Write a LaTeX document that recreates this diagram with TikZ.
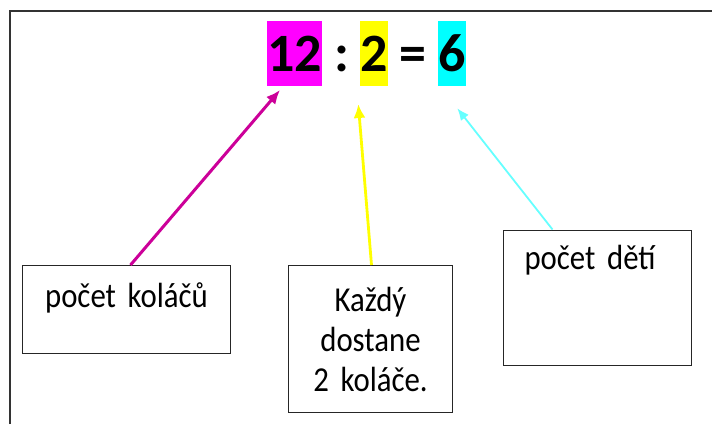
\documentclass[tikz,border=0pt]{standalone}
\usepackage{fontspec}
\setmainfont{Carlito}
\newfontfamily\boxfont{Carlito}[FakeStretch=0.88]
\usetikzlibrary{arrows.meta, calc, positioning}

\definecolor{pinkfill}{HTML}{FF00FF}
\definecolor{pinkline}{HTML}{CC0099}
\definecolor{yellowfill}{HTML}{FFFF00}
\definecolor{cyanfill}{HTML}{00FFFF}
\definecolor{cyanline}{HTML}{66FFFF}

\begin{document}
\begin{tikzpicture}[x=1pt, y=-1pt, inner sep=0pt,
    >={Latex[length=14pt, width=12pt]},
    num/.style={font=\fontsize{54}{64}\selectfont\bfseries, anchor=base west,
      text height=50.7pt, text depth=14.3pt},
    op/.style={font=\fontsize{54}{64}\selectfont\bfseries, anchor=base},
    lbox/.style={draw=black!85, line width=1pt, anchor=north west,
      font=\boxfont\fontsize{35}{40}\selectfont}]
    \useasboundingbox (0,0) rectangle (712,424);
    \draw[line width=1.6pt, black!80] (10,424) -- (10,11) -- (712,11);

    \node[num, fill=pinkfill] at (267,71.7) (twelve) {12};
    \node[op] at (341.7,71.7) (colon) {:};
    \node[num, fill=yellowfill] at (360,71.7) (two) {2};
    \node[op] at (412.7,71.7) (equals) {=};
    \node[num, fill=cyanfill] at (438,71.7) (six) {6};

    \node[lbox, text width=208pt, align=center, text height=42pt, text depth=46pt]
      at (22,265) (kolace) {počet koláčů};
    \node[lbox, text width=164pt, minimum height=147pt, align=center]
      at (288,265) (kazdy) {Každý\\ dostane\\ 2 koláče.};
    \node[lbox, text width=146pt, inner xsep=21pt, align=left, text height=39pt, text depth=96.5pt]
      at (503,229.5) (deti) {počet dětí};

    \coordinate (tipA) at (280,90);
    \coordinate (tipB) at (358.3,104);
    \coordinate (tipC) at (457.3,108.3);

    \draw[->, pinkline, line width=3pt] ([xshift=4pt]kolace.north) -- (tipA);
    \draw[->, yellowfill, line width=2.8pt] ([xshift=1pt]kazdy.north) -- (tipB);
    \draw[->, cyanline, line width=1.8pt, >={Latex[length=12pt, width=10pt]}]
      ([xshift=-45pt]deti.north) -- (tipC);
\end{tikzpicture}
\end{document}
